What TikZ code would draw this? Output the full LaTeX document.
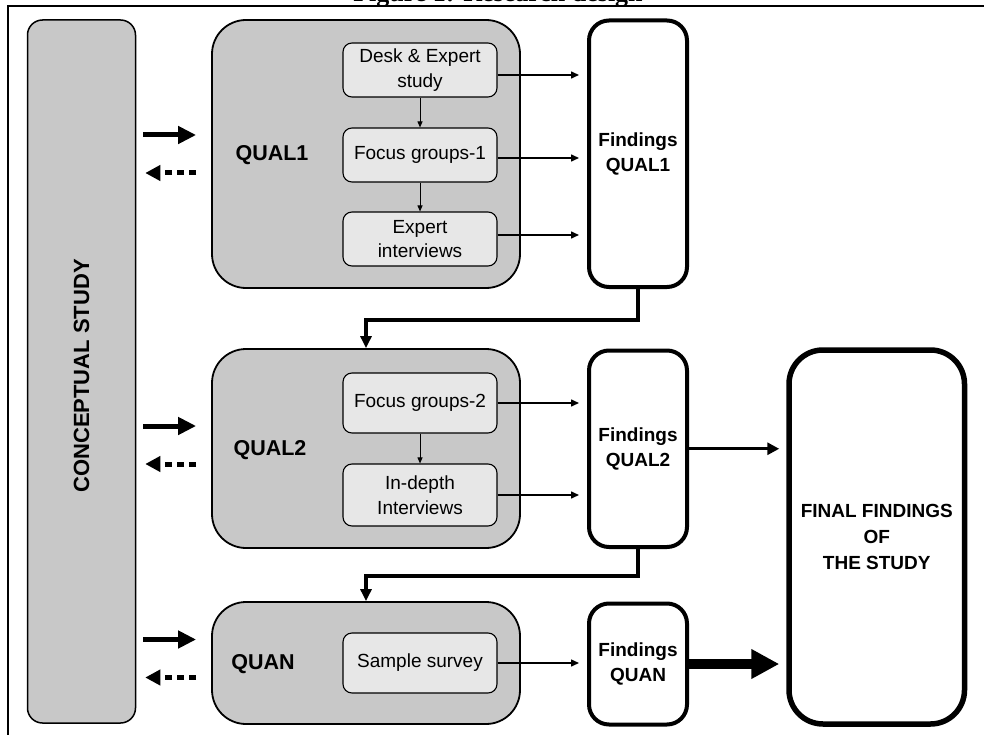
\documentclass[tikz,border=0pt]{standalone}
\usepackage{fontspec}
\setmainfont{Liberation Sans}
\newfontfamily\titlefont{Liberation Serif}
\usetikzlibrary{arrows.meta}
\definecolor{boxgray}{RGB}{200,200,200}
\definecolor{subgray}{RGB}{231,231,231}

\begin{document}
\begin{tikzpicture}[x=1pt,y=-1pt,
  phase/.style={draw, line width=1.8pt, fill=boxgray, rounded corners=34pt,
    inner sep=0pt, minimum width=308pt},
  concept/.style={draw, line width=1.5pt, fill=boxgray, rounded corners=15pt,
    inner sep=0pt, minimum width=108pt, minimum height=703pt},
  substep/.style={draw, line width=1.1pt, fill=subgray, rounded corners=9pt,
    inner sep=0pt, minimum width=154pt, align=center,
    font=\fontsize{19}{24.5}\selectfont},
  phaselabel/.style={font=\fontsize{21.5}{26}\selectfont\bfseries, inner sep=0pt},
  findings/.style={draw, line width=4pt, fill=white, rounded corners=20pt,
    inner sep=0pt, minimum width=98pt, align=center,
    font=\fontsize{19}{25}\selectfont\bfseries},
  final/.style={draw, line width=5.5pt, fill=white, rounded corners=34pt,
    inner sep=0pt, minimum width=175.5pt, minimum height=374pt, align=center,
    font=\fontsize{19}{26}\selectfont\bfseries},
  inner arrow/.style={line width=0.9pt, -{Triangle[length=6pt,width=5pt]}},
  out arrow/.style={line width=1.5pt, -{Triangle[length=8pt,width=7pt]},
    shorten >=8pt},
  feed arrow/.style={line width=3.5pt, -{Triangle[length=12pt,width=11pt]}},
  to concept/.style={line width=5pt, -{Triangle[length=18pt,width=17pt]},
    shorten <=7pt, shorten >=15pt},
  from concept/.style={line width=5pt, dash pattern=on 7pt off 5pt,
    -{Triangle[length=15pt,width=15pt]}, shorten <=15pt, shorten >=9pt},
  mid arrow/.style={line width=3pt, -{Triangle[length=12pt,width=12pt]},
    shorten >=7pt},
  heavy arrow/.style={line width=10pt, -{Triangle[length=28pt,width=28pt]},
    shorten >=7pt},
]
\useasboundingbox (0,0) rectangle (984,735);

% caption above the frame
\node[anchor=base, inner sep=0pt,
  font=\titlefont\fontsize{26}{30}\selectfont\bfseries] (title) at (498,1.5)
  {Figure 1: Research design};

% outer frame
\draw[line width=2.6pt] (8,760) -- (8,6) -- (1000,6);

% conceptual study column
\node[concept] (concept) at (81.5,371.5) {};
\node[rotate=90, font=\fontsize{22}{26}\selectfont\bfseries, inner sep=0pt]
  (conceptlab) at (81.5,376) {CONCEPTUAL STUDY};

% phase boxes
\node[phase, minimum height=268pt] (q1) at (366,154) {};
\node[phase, minimum height=199pt] (q2) at (366,448.5) {};
\node[phase, minimum height=122pt] (qn) at (366,663) {};

\node[phaselabel] (q1lab) at (272,155) {QUAL1};
\node[phaselabel] (q2lab) at (270,450) {QUAL2};
\node[phaselabel] (qnlab) at (263,664) {QUAN};

% steps inside the phases
\node[substep, minimum height=54pt] (desk) at (420,70) {Desk \& Expert\\study};
\node[substep, minimum height=54pt] (fg1) at (420,155) {Focus groups-1};
\node[substep, minimum height=54pt] (expert) at (420,239) {Expert\\interviews};

\node[substep, minimum height=60pt] (fg2) at (420,403) {Focus groups-2};
\node[substep, minimum height=62pt] (depth) at (420,495) {In-depth\\Interviews};

\node[substep, minimum height=60pt] (survey) at (420,663) {Sample survey};

% findings per phase
\node[findings, minimum height=266.5pt] (f1) at (638,153.75) {Findings\\QUAL1};
\node[findings, minimum height=196.5pt] (f2) at (638,448.75) {Findings\\QUAL2};
\node[findings, minimum height=121pt] (f3) at (638,664) {Findings\\QUAN};

% overall result
\node[final] (final) at (876.75,537) {FINAL FINDINGS\\OF\\THE STUDY};

% links between steps
\draw[inner arrow] (desk) -- (fg1);
\draw[inner arrow] (fg1) -- (expert);
\draw[inner arrow] (fg2) -- (depth);

% steps feeding their findings
\draw[out arrow] ([yshift=-5pt]desk.east) -- ([yshift=-5pt]desk.east -| f1.west);
\draw[out arrow] ([yshift=-3pt]fg1.east) -- ([yshift=-3pt]fg1.east -| f1.west);
\draw[out arrow] ([yshift=4pt]expert.east) -- ([yshift=4pt]expert.east -| f1.west);
\draw[out arrow] (fg2.east) -- (fg2.east -| f2.west);
\draw[out arrow] (depth.east) -- (depth.east -| f2.west);
\draw[out arrow] (survey.east) -- (survey.east -| f3.west);

% findings leading into the next phase
\draw[feed arrow] (f1.south) -- ++(0,31) -| (q2.north);
\draw[feed arrow] (f2.south) -- ++(0,27) -| (qn.north);

% exchange with the conceptual study
\draw[to concept] ([yshift=19pt]q1.west -| concept.east) -- ([yshift=19pt]q1.west);
\draw[from concept] ([yshift=-19pt]q1.west) -- ([yshift=-19pt]q1.west -| concept.east);
\draw[to concept] ([yshift=22.5pt]q2.west -| concept.east) -- ([yshift=22.5pt]q2.west);
\draw[from concept] ([yshift=-15.5pt]q2.west) -- ([yshift=-15.5pt]q2.west -| concept.east);
\draw[to concept] ([yshift=23.5pt]qn.west -| concept.east) -- ([yshift=23.5pt]qn.west);
\draw[from concept] ([yshift=-14.5pt]qn.west) -- ([yshift=-14.5pt]qn.west -| concept.east);

% findings into the final result
\draw[mid arrow] (f2.east) -- (f2.east -| final.west);
\draw[heavy arrow] (f3.east) -- (f3.east -| final.west);
\end{tikzpicture}
\end{document}
